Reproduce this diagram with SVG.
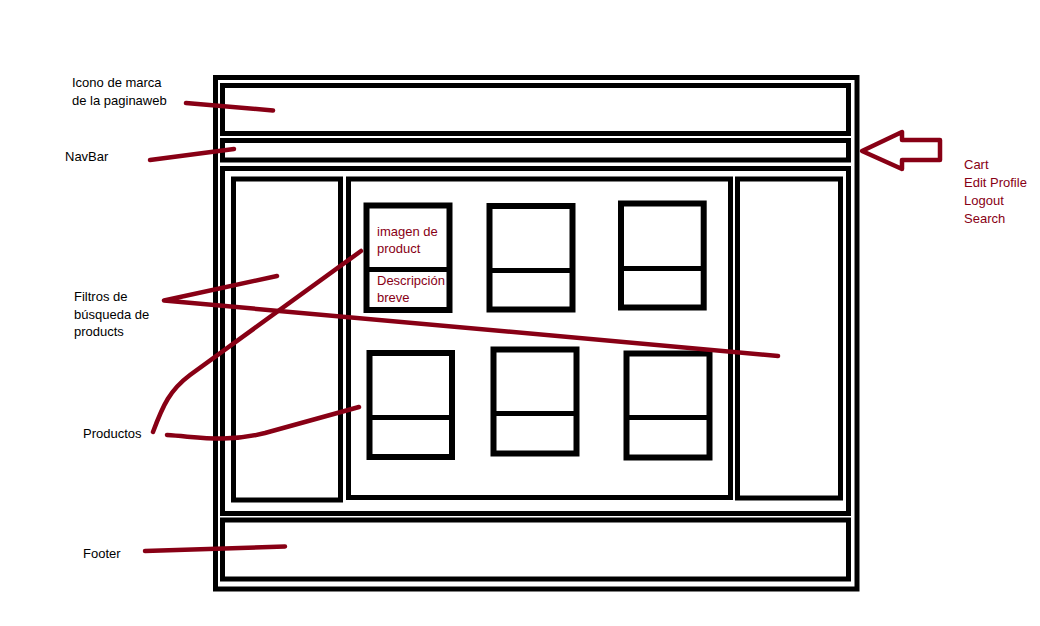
<svg xmlns="http://www.w3.org/2000/svg" width="1040" height="626" viewBox="0 0 1040 626">
<style>
.box{fill:none;stroke:#000;stroke-width:5}
.card{fill:none;stroke:#000;stroke-width:6}
.div{stroke:#000;stroke-width:5}
.con{fill:none;stroke:#880015;stroke-width:4.5;stroke-linecap:round;stroke-linejoin:round}
.lbl{font-family:"Liberation Sans",Arial,sans-serif;font-size:13px;fill:#000}
.red{font-family:"Liberation Sans",Arial,sans-serif;font-size:13px;fill:#880015}
</style>
<rect width="1040" height="626" fill="#fff"/>
<g id="page"><rect class="box" x="215.5" y="77.5" width="641.5" height="511.5"/></g>
<g id="header"><rect class="box" x="222.5" y="85.5" width="626" height="48"/></g>
<g id="navbar"><rect class="box" x="222.5" y="140.5" width="626" height="19.5"/></g>
<g id="main"><rect class="box" x="222.5" y="168.5" width="626" height="345"/></g>
<g id="footer"><rect class="box" x="222.5" y="520" width="626" height="59"/></g>
<g id="sidebar-left"><rect class="box" x="233.5" y="179" width="107" height="321"/></g>
<g id="content"><rect class="box" x="348.5" y="179" width="382" height="318.5"/></g>
<g id="sidebar-right"><rect class="box" x="737.5" y="179" width="103" height="319"/></g>
<g id="card1"><rect class="card" x="366.5" y="205.5" width="83" height="104.5"/><line class="div" x1="366.5" y1="269.5" x2="449.5" y2="269.5"/>
<text class="red" x="377" y="235.5">imagen de</text><text class="red" x="377" y="252.5">product</text>
<text class="red" x="377" y="285">Descripción</text><text class="red" x="377" y="302">breve</text></g>
<g id="card2"><rect class="card" x="489.5" y="206" width="83" height="103.5"/><line class="div" x1="489.5" y1="270.5" x2="572.5" y2="270.5"/></g>
<g id="card3"><rect class="card" x="621" y="203.5" width="82.7" height="104"/><line class="div" x1="621" y1="268.5" x2="703.7" y2="268.5"/></g>
<g id="card4"><rect class="card" x="369.5" y="353" width="82.5" height="104"/><line class="div" x1="369.5" y1="417.5" x2="452" y2="417.5"/></g>
<g id="card5"><rect class="card" x="493.5" y="349.5" width="83" height="104"/><line class="div" x1="493.5" y1="413.5" x2="576.5" y2="413.5"/></g>
<g id="card6"><rect class="card" x="626.5" y="353.5" width="83" height="104"/><line class="div" x1="626.5" y1="417.5" x2="709.5" y2="417.5"/></g>
<g id="arrow"><path class="con" d="M862,151 L902,132 L902,140 L940,140 L940,160 L902,160 L902,169 Z"/></g>
<g id="labels">
<text class="lbl" x="72" y="87">Icono de marca</text>
<text class="lbl" x="72" y="105">de la paginaweb</text>
<text class="lbl" x="65" y="160.5">NavBar</text>
<text class="lbl" x="74" y="301">Filtros de</text>
<text class="lbl" x="74" y="318.5">búsqueda de</text>
<text class="lbl" x="74" y="336">products</text>
<text class="lbl" x="83" y="438">Productos</text>
<text class="lbl" x="83" y="558">Footer</text>
<text class="red" x="964" y="169">Cart</text>
<text class="red" x="964" y="187">Edit Profile</text>
<text class="red" x="964" y="205">Logout</text>
<text class="red" x="964" y="223">Search</text>
</g>
<g id="connectors">
<path class="con" d="M186,103 L273,110.5"/>
<path class="con" d="M150,160 L234,149"/>
<path class="con" d="M277,276 L164,300.5 L778,356"/>
<path class="con" d="M153,432 C163,405 170,390 190,375 L361,251"/>
<path class="con" d="M167,435 C200,437 225,443 265,433 L359,407"/>
<path class="con" d="M145,551 L285,546.5"/>
</g>
</svg>
